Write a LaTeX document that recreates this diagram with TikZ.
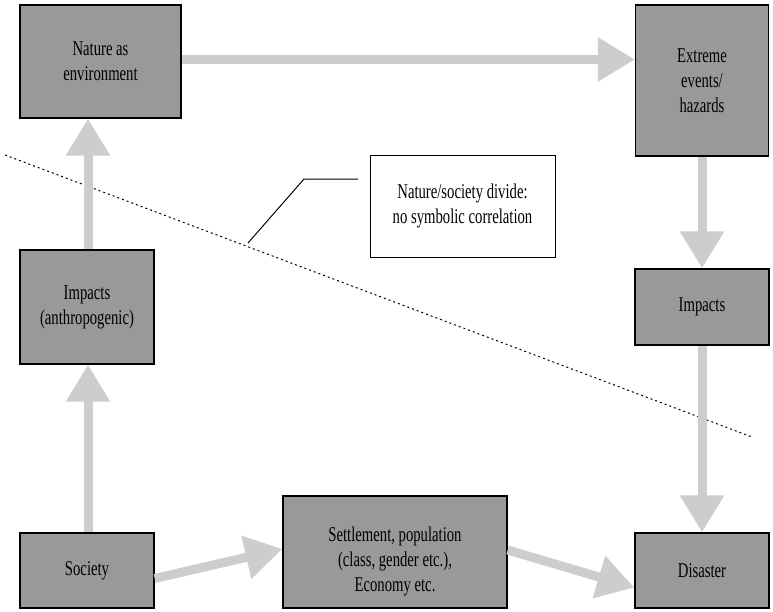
\documentclass[tikz,border=0pt]{standalone}
\usepackage{fontspec}
\setmainfont[FakeStretch=0.70]{Liberation Serif}
\usetikzlibrary{arrows.meta,calc}
\definecolor{boxgray}{HTML}{999999}
\definecolor{arrgray}{HTML}{CDCDCD}
\begin{document}
\begin{tikzpicture}[x=1pt,y=-1pt,
  box/.style={draw=black,line width=1.3pt,fill=boxgray,align=center,inner sep=0pt,
    font=\fontsize{21}{25}\selectfont},
  notebox/.style={draw=black,line width=1pt,fill=white,align=center,inner sep=0pt,
    font=\fontsize{21}{25}\selectfont},
  bigarrow/.style={draw=arrgray,line width=9pt,
    -{Triangle[width=42pt,length=37pt,fill=arrgray,color=arrgray]}}]
\useasboundingbox (0,0) rectangle (773,611);
% dotted divide line
\coordinate (d1) at (5,155);
\coordinate (d2) at (752,437);
\draw[line width=1pt,dash pattern=on 2pt off 3pt] (d1) -- (d2);
% boxes
\node[box,minimum width=161pt,minimum height=113pt] (nat) at (100.5,61.5) {Nature as\\environment};
\node[box,minimum width=133pt,minimum height=151pt] (ext) at (702,80.5) {Extreme\\events/\\hazards};
\node[notebox,minimum width=185pt,minimum height=102pt] (note) at (462.5,206) {Nature/society divide:\\no symbolic correlation};
\node[box,minimum width=134pt,minimum height=114pt] (imp1) at (87,307) {Impacts\\(anthropogenic)};
\node[box,minimum width=134pt,minimum height=76pt] (imp2) at (702,307) {Impacts};
\node[box,minimum width=134pt,minimum height=75pt] (soc) at (87,570.5) {Society};
\node[box,minimum width=224pt,minimum height=112pt] (set) at (395,552)
  {\rule{0pt}{33pt}Settlement, population\\(class, gender etc.),\\Economy etc.};
\node[box,minimum width=134pt,minimum height=75pt] (dis) at (702,570.5) {Disaster};
% leader line
\coordinate (l1) at (358,179);
\coordinate (l2) at (304,179);
\coordinate (l3) at (248,243);
\draw[line width=1pt] (l1) -- (l2) -- (l3);
% arrows
\draw[bigarrow] ([yshift=2pt]nat.east) -- ([yshift=2pt]nat.east -| ext.west);
\draw[bigarrow] (ext.south) -- (imp2.north);
\draw[bigarrow] (imp2.south) -- (imp2.south |- dis.north);
\draw[bigarrow] ([xshift=1pt]imp1.north) -- ([xshift=1pt]imp1.north |- nat.south);
\draw[bigarrow] ([xshift=1pt]soc.north) -- ([xshift=1pt]imp1.south);
\draw[bigarrow] ([yshift=-8pt]soc.east) -- ([yshift=3pt]set.west);
\draw[bigarrow] ([yshift=2pt]set.east) -- ([yshift=-17pt]dis.west);
\end{tikzpicture}
\end{document}
